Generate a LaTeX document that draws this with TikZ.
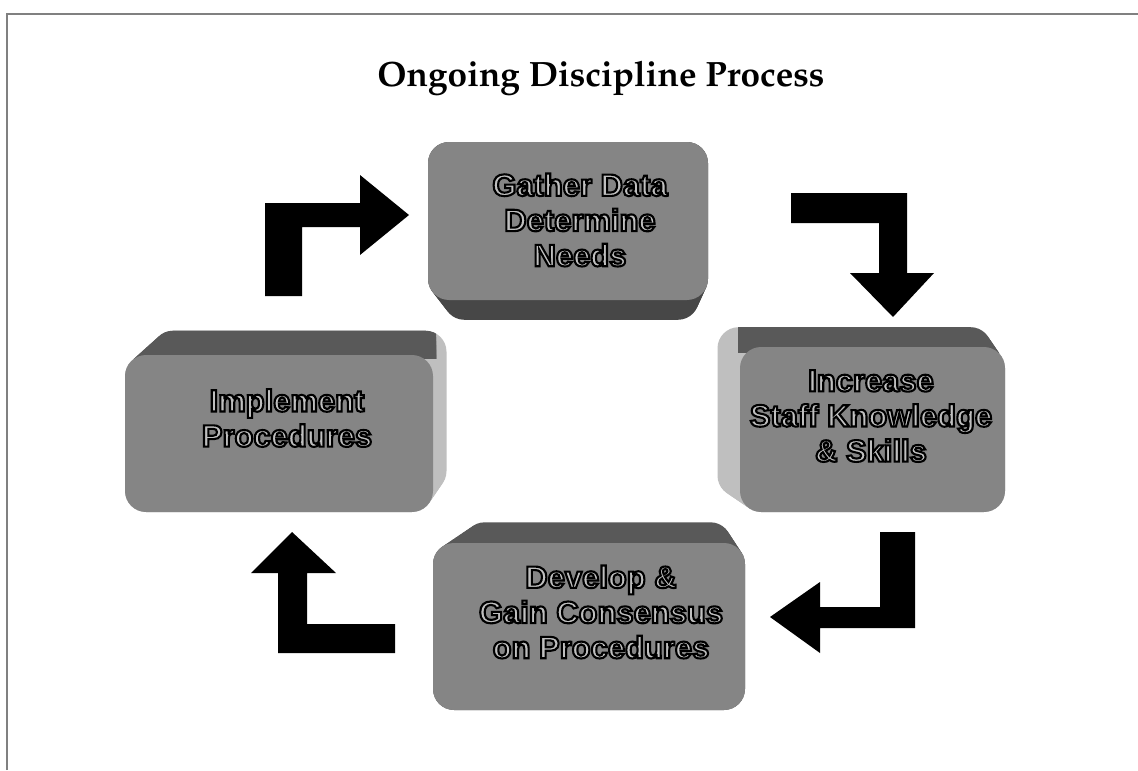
\documentclass[tikz,border=0pt]{standalone}
\usepackage[T1]{fontenc}
\usepackage{fontspec}
\setsansfont{Liberation Sans}
\usetikzlibrary{positioning}

% outlined letters: fill in the text colour, black stroke round them
\newcommand{\outl}[1]{\special{pdf:literal direct 2 Tr 1.5 w 0 G}#1\special{pdf:literal direct 0 Tr}}
% extruded slab: front face rect, back face rect, fill colour
\newcommand{\slab}[9]{%
  \foreach \t in {0,0.1,...,1}
    \fill[#9,rounded corners=15pt] ({#1+\t*(#5-#1)},{#2+\t*(#6-#2)}) rectangle ({#3+\t*(#7-#3)},{#4+\t*(#8-#4)});}

\begin{document}
\begin{tikzpicture}[x=0.025cm,y=-0.025cm,
  face/.style={fill=black!48,rounded corners=15pt},
  lbl/.style={align=center,font=\sffamily\bfseries\fontsize{22}{25}\selectfont,text=black!25},
  turn/.style={fill=black}]
  \useasboundingbox (0,0) rectangle (1138,770);
  \fill[white] (0,0) rectangle (1138,770);
  \draw[black!50,line width=1.5pt] (7,770) -- (7,14) -- (1138,14);
  \node[anchor=base,font={\fontencoding{T1}\fontfamily{ppl}\fontseries{b}\fontsize{25}{30}\selectfont}] (title) at (601,86) {Ongoing Discipline Process};

  % top: gather data
  \slab{428}{142}{708}{300}{445}{164}{698}{322}{black!72}
  \fill[face] (428,142) rectangle (708,300);
  \node[lbl] (gather) at (580,220) {\outl{Gather Data\\Determine\\Needs}};

  % right: staff knowledge
  \slab{740}{347}{1005}{512}{715}{325}{990}{495}{black!25}
  \begin{scope}
    \clip (738,300) rectangle (1010,352);
    \slab{740}{347}{1005}{512}{715}{325}{990}{495}{black!65}
  \end{scope}
  \fill[face] (740,347) rectangle (1005,512);
  \node[lbl] (staff) at (871,416) {\outl{Increase\\Staff Knowledge\\\& Skills}};

  % left: implement
  \slab{125}{355}{433}{512}{155}{328}{448}{490}{black!25}
  \begin{scope}
    \clip (120,300) rectangle (436,358);
    \slab{125}{355}{433}{512}{155}{328}{448}{490}{black!65}
  \end{scope}
  \fill[face] (125,355) rectangle (433,512);
  \node[lbl] (implement) at (287,418) {\outl{Implement\\Procedures}};

  % bottom: consensus
  \slab{433}{543}{745}{710}{467}{520}{730}{690}{black!65}
  \fill[face] (433,543) rectangle (745,710);
  \node[lbl] (consensus) at (601,612) {\outl{Develop \&\\Gain Consensus\\on Procedures}};

  % elbow arrows round the cycle
  \fill[turn] (265,296) -- (265,203) -- (360,203) -- (360,175) -- (409,215) -- (360,255) -- (360,227) -- (302,227) -- (302,296) -- cycle;
  \fill[turn] (791,193) -- (907,193) -- (907,273) -- (934,273) -- (893,317) -- (850,273) -- (879,273) -- (879,223) -- (791,223) -- cycle;
  \fill[turn] (880,532) -- (915,532) -- (915,628) -- (820,628) -- (820,653) -- (770,617) -- (820,582) -- (820,607) -- (880,607) -- cycle;
  \fill[turn] (395,624) -- (395,653) -- (278,653) -- (278,573) -- (251,573) -- (292,532) -- (336,573) -- (307,573) -- (307,624) -- cycle;
\end{tikzpicture}
\end{document}
